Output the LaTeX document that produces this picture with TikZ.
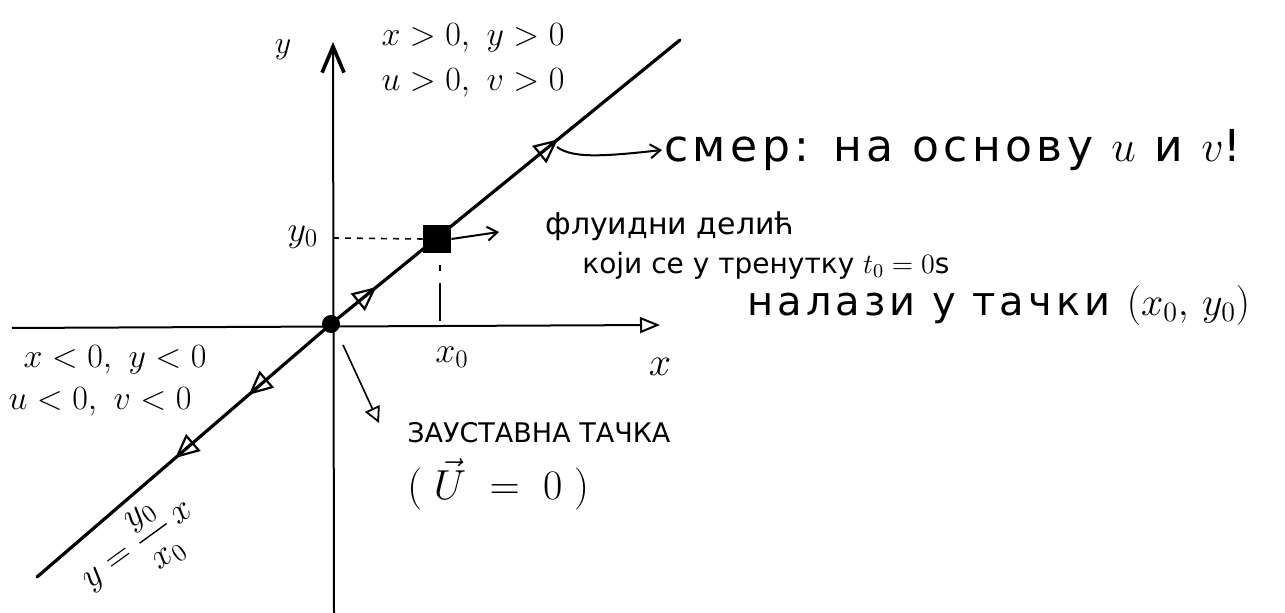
\documentclass[tikz,border=0pt]{standalone}
\usepackage{fix-cm}
\usepackage{amsmath}
\usepackage{fontspec}
\setmainfont{DejaVu Sans}
\newfontfamily\spread[LetterSpace=10]{DejaVu Sans}
\usetikzlibrary{arrows.meta,decorations.markings}
\newcommand{\flowtip}{\arrow{Triangle[open,length=12pt,width=11pt,line width=1.1pt]}}
\newcommand{\fs}[1]{\fontsize{#1}{#1}\selectfont}
\tikzset{flowline/.style={line width=1.6pt, line cap=round},
  axisline/.style={line width=1pt},
  lbl/.style={inner sep=1pt},
  pointer/.style={line width=1pt, -{Straight Barb[length=5pt,width=7pt]}}}

\begin{document}
\begin{tikzpicture}[x=0.5pt,y=-0.5pt]
\useasboundingbox (0,0) rectangle (1285,613);

\coordinate (O) at (331,324);
\coordinate (lo) at (37,577);
\coordinate (hi) at (680,40);

%axes
\draw[axisline,-{Triangle[open,length=10pt,width=8pt,line width=1pt]}] (12,328) -- (660,325);
\draw[axisline,-{Straight Barb[length=13pt,width=11pt,line width=1.8pt]}] (334,613) -- (333,42);
\node[lbl] (ylab) at (283,50) {\fs{16}$y$};
\node[lbl] (xlab) at (660,367) {\fs{20}$x$};

%trajectory y = y0/x0 x
\draw[flowline, postaction={decorate}, decoration={markings,
  mark=at position 0.13 with {\flowtip}, mark=at position 0.65 with {\flowtip}}] (O) -- (hi);
\draw[flowline, postaction={decorate}, decoration={markings,
  mark=at position 0.28 with {\flowtip}, mark=at position 0.53 with {\flowtip}}] (O) -- (lo);
\node[lbl, rotate=36] (eq) at (140,548) {\fs{18}$y=\dfrac{y_0}{x_0}\,x$};

%stagnation point
\node[circle, fill=black, inner sep=0pt, minimum size=9pt] (stag) at (O) {};
\coordinate (sa) at (343,345);
\coordinate (sb) at (379,423);
\draw[line width=0.8pt,-{Triangle[open,length=8pt,width=8pt,line width=0.9pt]}] (sa) -- (sb);
\node[lbl, anchor=west] (zt) at (405,433) {\fs{13.5}ЗАУСТАВНА ТАЧКА};
\node[lbl, anchor=west] (zv) at (405,484) {\fs{21}$(\;\vec{U}\;=\;0\;)$};

%fluid particle
\node[fill=black, inner sep=0pt, minimum size=14pt] (part) at (437,239) {};
\coordinate (y0ax) at (333,238);
\coordinate (vt) at (499,232);
\draw[dashed, line width=0.8pt] (y0ax) -- (part.west);
\draw[line width=0.8pt, dash pattern=on 3pt off 6pt on 18pt off 0pt] (440,265) -- (440,321);
\draw[pointer] (part.east) -- (vt);
\node[lbl] (y0) at (303,237) {\fs{18}$y_0$};
\node[lbl] (x0) at (452,357) {\fs{18}$x_0$};

%quadrants
\node[lbl] (q1) at (473,38) {\fs{17}$x>0,\ y>0$};
\node[lbl] (q1v) at (473,83) {\fs{17}$u>0,\ v>0$};
\node[lbl] (q3) at (115,360) {\fs{17}$x<0,\ y<0$};
\node[lbl] (q3v) at (100,402) {\fs{17}$u<0,\ v<0$};

%texts
\node[lbl, anchor=west] (smer) at (662,150) {\fs{22}\spread смер: на основу $u$ и $v$!};
\draw[pointer] (557,147) .. controls (572,158) and (600,157) .. (smer.west);
\node[lbl, anchor=west] (fd) at (543,226) {\fs{15}флуидни делић};
\node[lbl, anchor=west] (kt) at (580,266) {\fs{14}који се у тренутку $t_0=0$s};
\node[lbl, anchor=west] (nt) at (745,306) {\fs{20}\spread налази у тачки $(x_0,\,y_0)$};

\end{tikzpicture}
\end{document}
